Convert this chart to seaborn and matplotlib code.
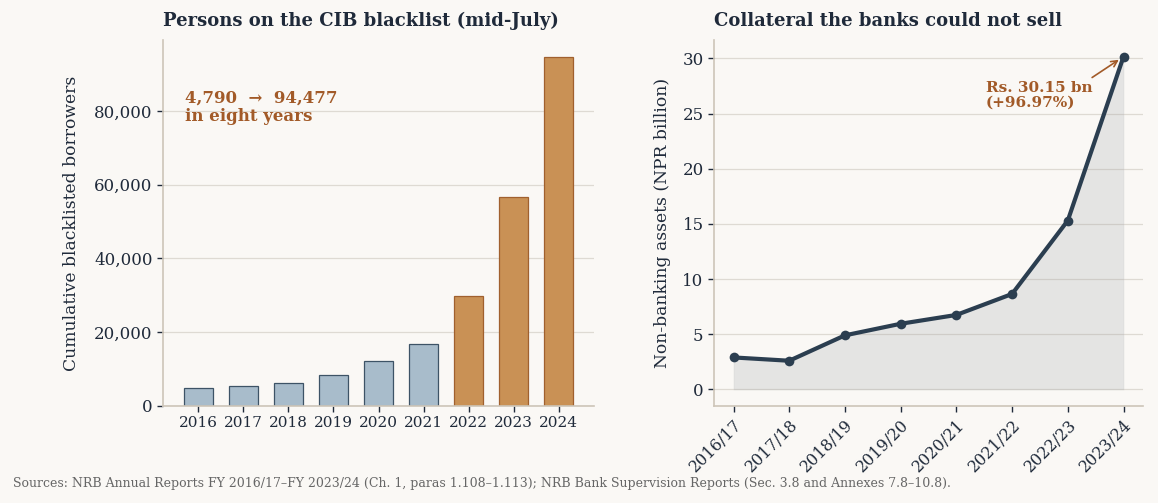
import numpy as np
import pandas as pd
import matplotlib.pyplot as plt
import seaborn as sns
from matplotlib.ticker import FuncFormatter

# data
years = ["2016", "2017", "2018", "2019", "2020", "2021", "2022", "2023", "2024"]
blacklisted = [4790, 5450, 6200, 8450, 12250, 16850, 29700, 56600, 94477]
recent_flag = [False, False, False, False, False, False, True, True, True]

fiscal_years = ["2016/17", "2017/18", "2018/19", "2019/20", "2020/21", "2021/22", "2022/23", "2023/24"]
nba_billion = [2.9, 2.6, 4.9, 5.95, 6.75, 8.65, 15.3, 30.15]
nba_note = "Rs. 30.15 bn\n(+96.97%)"

BG = "#faf8f5"
INK = "#1f2a3a"
ACCENT = "#a25a28"
SPINE = "#cdc5b8"

sns.set_theme(style="white")
plt.rcParams["font.family"] = ["DejaVu Serif"]
plt.rcParams["axes.facecolor"] = BG
plt.rcParams["figure.facecolor"] = BG

fig = plt.figure(figsize=(11.58, 5.03), dpi=100)
ax1 = fig.add_axes([163 / 1158, 97 / 503, 431 / 1158, 366 / 503])
ax2 = fig.add_axes([714 / 1158, 97 / 503, 429 / 1158, 366 / 503])

# left: blacklist bars
df1 = pd.DataFrame({"year": years, "n": blacklisted, "recent": recent_flag})
sns.barplot(data=df1, x="year", y="n", hue="recent", dodge=False, width=0.65,
            saturation=1, palette={False: "#a8bccb", True: "#c99155"},
            legend=False, ax=ax1)
for patch, rec in zip(ax1.patches, recent_flag):
    patch.set_edgecolor("#a0602e" if rec else "#3d5366")
    patch.set_linewidth(0.9)
ax1.set_xlim(-0.78, 8.78)
ax1.set_ylim(0, max(blacklisted) * 1.05)
ax1.set_yticks([0, 20000, 40000, 60000, 80000])
ax1.yaxis.set_major_formatter(FuncFormatter(lambda v, p: f"{int(v):,}"))
ax1.set_xlabel("")
ax1.set_ylabel("Cumulative blacklisted borrowers", fontsize=12.3, color=INK, labelpad=10)
ax1.set_title("Persons on the CIB blacklist (mid-July)", fontsize=13, fontweight="bold",
              color=INK, loc="left", pad=10)
ax1.text(0.05, 0.865, f"{blacklisted[0]:,}  \u2192  {blacklisted[-1]:,}\nin eight years",
         transform=ax1.transAxes, fontsize=12, fontweight="bold", color=ACCENT,
         va="top", linespacing=1.15)

# right: non-banking assets line
df2 = pd.DataFrame({"fy": fiscal_years, "v": nba_billion})
xs = np.arange(len(fiscal_years))
ax2.fill_between(xs, 0, df2["v"], color="#9a9ea3", alpha=0.22, linewidth=0.8,
                 edgecolor="#c8c8c8")
sns.lineplot(x=xs, y=df2["v"], color="#2b3e50", linewidth=3, marker="o",
             markersize=7, markeredgewidth=0, ax=ax2)
ax2.set_xticks(xs)
ax2.set_xticklabels(fiscal_years, rotation=45, ha="right", rotation_mode="anchor")
ax2.set_ylim(-1.5, 31.66)
ax2.set_yticks([0, 5, 10, 15, 20, 25, 30])
ax2.set_ylabel("Non-banking assets (NPR billion)", fontsize=12.3, color=INK, labelpad=8)
ax2.set_title("Collateral the banks could not sell", fontsize=13, fontweight="bold",
              color=INK, loc="left", pad=10)
ax2.annotate(nba_note, xy=(xs[-1], nba_billion[-1]), xytext=(xs[-1] - 2.47, 25.6),
             fontsize=11, fontweight="bold", color=ACCENT, linespacing=1.1,
             arrowprops=dict(arrowstyle="->", color=ACCENT, lw=1.2,
                             shrinkA=0, shrinkB=4, relpos=(0.95, 1.0)))

for ax in (ax1, ax2):
    sns.despine(ax=ax)
    ax.spines["left"].set_color(SPINE)
    ax.spines["bottom"].set_color(SPINE)
    ax.spines["left"].set_linewidth(1.2)
    ax.spines["bottom"].set_linewidth(1.2)
    ax.grid(axis="y", color="#dedad3", linewidth=0.9)
    ax.set_axisbelow(True)
    ax.tick_params(axis="both", colors=INK, length=4, width=1, labelsize=11,
                   bottom=True, left=True)
    ax.tick_params(axis="y", labelsize=12)
ax2.tick_params(axis="x", labelsize=11.5)

fig.text(13 / 1158, 1 - 483 / 503,
         "Sources: NRB Annual Reports FY 2016/17\u2013FY 2023/24 (Ch. 1, paras 1.108\u20131.113); "
         "NRB Bank Supervision Reports (Sec. 3.8 and Annexes 7.8\u201310.8).",
         fontsize=9, color="#666666", va="center")

fig.savefig("out.png", dpi=100, facecolor=BG)
